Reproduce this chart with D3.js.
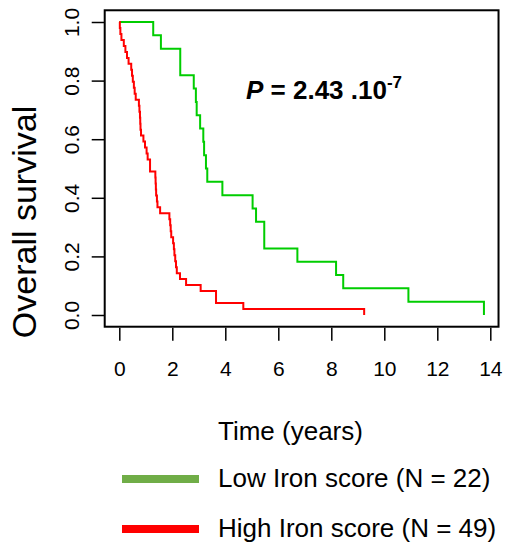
<!DOCTYPE html>
<html>
<head>
<meta charset="utf-8">
<script src="https://cdn.jsdelivr.net/npm/d3@7"></script>
<style>
  body { margin: 0; background: #fff; }
  text { font-family: "Liberation Sans", Arial, sans-serif; }
</style>
</head>
<body>
<div class="graphContainer"></div>
<script>
// death times (years), no censoring
var lowTimes = [1.28, 1.57, 2.30, 2.30, 2.81, 2.89, 2.92, 3.05, 3.17, 3.20, 3.27,
  3.32, 3.89, 5.03, 5.16, 5.47, 5.47, 6.72, 8.18, 8.45, 10.91, 13.76];
var highTimes = [0.02, 0.04, 0.08, 0.17, 0.23, 0.29, 0.35, 0.45, 0.48, 0.51, 0.55,
  0.58, 0.62, 0.74, 0.76, 0.78, 0.79, 0.80, 0.82, 0.91, 0.97, 1.03, 1.07, 1.16,
  1.16, 1.36, 1.37, 1.38, 1.39, 1.42, 1.44, 1.54, 1.89, 1.92, 1.94, 1.96, 2.03,
  2.06, 2.08, 2.11, 2.14, 2.17, 2.29, 2.52, 3.07, 3.65, 3.65, 4.68, 9.24];
var xTicks = [0, 2, 4, 6, 8, 10, 12, 14];
var yTicks = [0, 0.2, 0.4, 0.6, 0.8, 1.0];
var legendLabels = ["Low Iron score (N = 22)", "High Iron score (N = 49)"];

var width = 505;
var height = 544;

var svg = d3
  .select(".graphContainer")
  .append("svg")
  .attr("width", width)
  .attr("height", height);

var xMax = d3.max(lowTimes.concat(highTimes));
var xScale = d3.scaleLinear().domain([0, 14]).range([119.3, 490.3]);
var yScale = d3.scaleLinear().domain([0, 1]).range([315, 22]);

// kaplan-meier steps
function steps(times) {
  var n = times.length;
  var pts = [[0, 1]];
  times.forEach((t, i) => pts.push([t, (n - i - 1) / n]));
  return pts;
}

var line = d3
  .line()
  .x((d) => xScale(d[0]))
  .y((d) => yScale(d[1]))
  .curve(d3.curveStepAfter);

svg
  .append("path")
  .attr("d", line(steps(lowTimes)))
  .attr("fill", "none")
  .attr("stroke", "#00CD00")
  .attr("stroke-width", 2);

svg
  .append("path")
  .attr("d", line(steps(highTimes)))
  .attr("fill", "none")
  .attr("stroke", "#FF0000")
  .attr("stroke-width", 2);

// box
var bx0 = xScale(-0.04 * xMax), bx1 = xScale(1.04 * xMax);
var by0 = yScale(1.04), by1 = yScale(-0.04);
svg
  .append("rect")
  .attr("x", bx0)
  .attr("y", by0)
  .attr("width", bx1 - bx0)
  .attr("height", by1 - by0)
  .attr("fill", "none")
  .attr("stroke", "#000")
  .attr("stroke-width", 2);

// x axis
var xAxis = d3.axisBottom(xScale).tickValues(xTicks).tickSize(13).tickFormat(d3.format("d"));
var xg = svg
  .append("g")
  .attr("transform", "translate(0," + (by1 + 1) + ")")
  .call(xAxis);
xg.select(".domain").remove();
xg.selectAll("line").attr("stroke-width", 1.5);
xg.selectAll("text")
  .attr("y", 48)
  .attr("dy", null)
  .style("font-size", "21px")
  .style("font-family", "Liberation Sans, Arial, sans-serif");

// y axis
var yAxis = d3.axisLeft(yScale).tickValues(yTicks).tickSize(13).tickFormat(d3.format(".1f"));
var yg = svg
  .append("g")
  .attr("transform", "translate(" + bx0 + ",0)")
  .call(yAxis);
yg.select(".domain").remove();
yg.selectAll("line").attr("stroke-width", 1.5);
yg.selectAll("text")
  .attr("x", null)
  .attr("dy", null)
  .attr("text-anchor", "middle")
  .attr("transform", "translate(-26,0) rotate(-90)")
  .style("font-size", "21px")
  .style("font-family", "Liberation Sans, Arial, sans-serif");

// y label
svg
  .append("text")
  .attr("transform", "translate(36,222) rotate(-90)")
  .attr("text-anchor", "middle")
  .style("font-size", "34px")
  .text("Overall survival");

// x label
svg
  .append("text")
  .attr("x", 218)
  .attr("y", 440)
  .style("font-size", "26px")
  .text("Time (years)");

// p value
var pText = svg
  .append("text")
  .attr("x", 246)
  .attr("y", 99)
  .style("font-size", "26px")
  .style("font-weight", "bold");
pText.append("tspan").style("font-style", "italic").text("P");
pText.append("tspan").text(" = 2.43 .10");
pText.append("tspan").attr("dy", -11).style("font-size", "17px").text("-7");

// legend
var legendColors = ["#70AD47", "#FF0000"];
var legendY = [479, 529];
var legend = svg.append("g").attr("id", "legend");
legendLabels.forEach((lab, i) => {
  legend
    .append("line")
    .attr("x1", 122)
    .attr("x2", 199)
    .attr("y1", legendY[i])
    .attr("y2", legendY[i])
    .attr("stroke", legendColors[i])
    .attr("stroke-width", 8);
  legend
    .append("text")
    .attr("x", 218)
    .attr("y", legendY[i] + 8)
    .style("font-size", "26px")
    .text(lab);
});
</script>
</body>
</html>
